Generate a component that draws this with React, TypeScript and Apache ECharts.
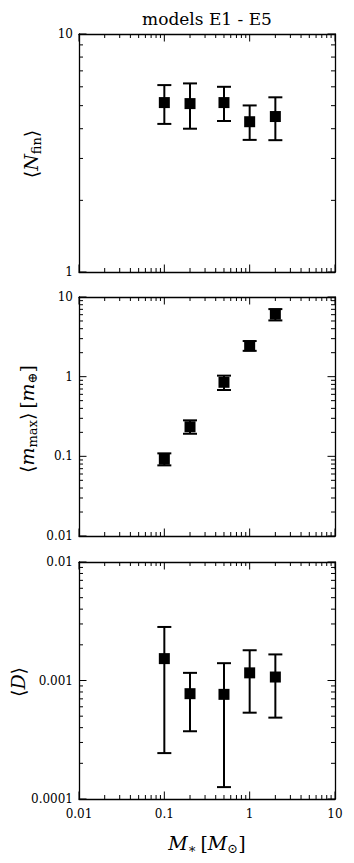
import React, { useEffect, useRef } from "react";
import * as echarts from "echarts";

// stellar masses [M_sun]
const stellarMass = [0.1, 0.2, 0.5, 1, 2];

// panel 1: <N_fin>
const nfinMean = [5.15, 5.1, 5.15, 4.28, 4.5];
const nfinLow = [4.19, 4.0, 4.31, 3.59, 3.58];
const nfinHigh = [6.1, 6.2, 6.0, 5.01, 5.42];

// panel 2: <m_max> [m_earth]
const mmaxMean = [0.092, 0.235, 0.85, 2.44, 6.1];
const mmaxLow = [0.077, 0.192, 0.68, 2.11, 5.08];
const mmaxHigh = [0.109, 0.283, 1.03, 2.8, 7.05];

// panel 3: <D>
const dMean = [0.00153, 0.000774, 0.000764, 0.00116, 0.00107];
const dLow = [0.000244, 0.000373, 0.000126, 0.000535, 0.000486];
const dHigh = [0.00283, 0.00116, 0.0014, 0.0018, 0.00166];

// axis ranges and tick labels
const xRange = [0.01, 10];
const xTickLabels = ["0.01", "0.1", "1", "10"];
const yRanges = [
  [1, 10],
  [0.01, 10],
  [0.0001, 0.01],
];
const yTickLabels = [
  ["1", "10"],
  ["0.01", "0.1", "1", "10"],
  ["0.0001", "0.001", "0.01"],
];

const FONT = "'DejaVu Serif', 'Liberation Serif', serif";

function logTicks(min: number, max: number) {
  const out: [number, number][] = [];
  const k0 = Math.round(Math.log10(min));
  const k1 = Math.round(Math.log10(max));
  for (let k = k0; k <= k1; k++) {
    const base = Math.pow(10, k);
    out.push([base, 1]);
    if (k < k1) for (let m = 2; m <= 9; m++) out.push([m * base, 0]);
  }
  return out;
}

function fmt(labels: string[]) {
  return (v: number) => {
    const f = labels.find((l) => Math.abs(Math.log10(+l) - Math.log10(v)) < 1e-6);
    return f ?? "";
  };
}

export default function App() {
  const ref = useRef<HTMLDivElement>(null);
  useEffect(() => {
    if (!ref.current) return;
    const chart = echarts.init(ref.current, undefined, { renderer: "svg" });
    const grids = [
      { left: 79, width: 256, top: 34, height: 238 },
      { left: 79, width: 256, top: 297, height: 239 },
      { left: 79, width: 256, top: 562, height: 237 },
    ];
    const means = [nfinMean, mmaxMean, dMean];
    const lows = [nfinLow, mmaxLow, dLow];
    const highs = [nfinHigh, mmaxHigh, dHigh];

    const xAxis: any[] = [];
    const yAxis: any[] = [];
    const series: any[] = [];
    const axisLine = { show: true, onZero: false, lineStyle: { color: "#000", width: 1.3 } };
    grids.forEach((g, i) => {
      const [ymin, ymax] = yRanges[i];
      ["bottom", "top"].forEach((pos, j) => {
        xAxis.push({
          type: "log",
          logBase: 10,
          gridIndex: i,
          position: pos,
          min: xRange[0],
          max: xRange[1],
          axisLine,
          axisTick: { show: false },
          splitLine: { show: false },
          minorTick: { show: false },
          axisLabel: {
            show: i === 2 && j === 0,
            formatter: fmt(xTickLabels),
            fontFamily: FONT,
            fontSize: 12,
            color: "#000",
            margin: 9,
            showMinLabel: true,
            showMaxLabel: true,
            hideOverlap: false,
          },
        });
      });
      ["left", "right"].forEach((pos, j) => {
        yAxis.push({
          type: "log",
          logBase: 10,
          gridIndex: i,
          position: pos,
          min: ymin,
          max: ymax,
          axisLine,
          axisTick: { show: false },
          splitLine: { show: false },
          minorTick: { show: false },
          axisLabel: {
            show: j === 0,
            formatter: fmt(yTickLabels[i]),
            fontFamily: FONT,
            fontSize: 12,
            color: "#000",
            margin: 6,
            showMinLabel: true,
            showMaxLabel: true,
            hideOverlap: false,
          },
        });
      });

      // ticks on all four sides
      const tickData: number[][] = [];
      logTicks(xRange[0], xRange[1]).forEach(([v, m]) => tickData.push([v, ymin, 0, m]));
      logTicks(ymin, ymax).forEach(([v, m]) => tickData.push([xRange[0], v, 1, m]));
      series.push({
        type: "custom",
        xAxisIndex: 2 * i,
        yAxisIndex: 2 * i,
        silent: true,
        clip: false,
        encode: { x: 0, y: 1 },
        data: tickData,
        renderItem: (params: any, api: any) => {
          const cs = params.coordSys;
          const kind = api.value(2);
          const len = api.value(3) ? 7.5 : 4;
          const st = { stroke: "#000", lineWidth: 1 };
          if (kind === 0) {
            const px = api.coord([api.value(0), ymin])[0];
            return {
              type: "group",
              children: [
                { type: "line", shape: { x1: px, y1: cs.y + cs.height, x2: px, y2: cs.y + cs.height - len }, style: st },
                { type: "line", shape: { x1: px, y1: cs.y, x2: px, y2: cs.y + len }, style: st },
              ],
            };
          }
          const py = api.coord([xRange[0], api.value(1)])[1];
          return {
            type: "group",
            children: [
              { type: "line", shape: { x1: cs.x, y1: py, x2: cs.x + len, y2: py }, style: st },
              { type: "line", shape: { x1: cs.x + cs.width, y1: py, x2: cs.x + cs.width - len, y2: py }, style: st },
            ],
          };
        },
      });

      // error bars
      series.push({
        type: "custom",
        xAxisIndex: 2 * i,
        yAxisIndex: 2 * i,
        encode: { x: 0, y: [1, 2] },
        data: stellarMass.map((x, k) => [x, lows[i][k], highs[i][k]]),
        renderItem: (params: any, api: any) => {
          const lo = api.coord([api.value(0), api.value(1)]);
          const hi = api.coord([api.value(0), api.value(2)]);
          const hw = 7;
          const st = { stroke: "#000", lineWidth: 2 };
          return {
            type: "group",
            children: [
              { type: "line", shape: { x1: lo[0], y1: lo[1], x2: hi[0], y2: hi[1] }, style: st },
              { type: "line", shape: { x1: lo[0] - hw, y1: lo[1], x2: lo[0] + hw, y2: lo[1] }, style: st },
              { type: "line", shape: { x1: hi[0] - hw, y1: hi[1], x2: hi[0] + hw, y2: hi[1] }, style: st },
            ],
          };
        },
      });

      // squares
      series.push({
        type: "scatter",
        xAxisIndex: 2 * i,
        yAxisIndex: 2 * i,
        symbol: "rect",
        symbolSize: 11,
        itemStyle: { color: "#000", opacity: 1 },
        z: 5,
        data: stellarMass.map((x, k) => [x, means[i][k]]),
      });
    });

    const main = { fontFamily: FONT, fontSize: 19, fontStyle: "italic", fill: "#000" };
    const br = { fontFamily: FONT, fontSize: 19, fill: "#000" };
    const sub = { fontFamily: FONT, fontSize: 13, fill: "#000", padding: [10, 0, 0, 0] };
    const sp = { fontFamily: FONT, fontSize: 12, fill: "#000" };

    chart.setOption({
      animation: false,
      textStyle: { fontFamily: FONT },
      grid: grids.map((g) => ({ ...g, containLabel: false, outerBoundsMode: "none" })),
      xAxis,
      yAxis,
      series,
      graphic: [
        {
          type: "text",
          x: 207,
          y: 19,
          style: { text: "models E1 - E5", fontFamily: FONT, fontSize: 17, fill: "#000", align: "center", verticalAlign: "middle" },
        },
        {
          type: "text",
          x: 31,
          y: 154,
          rotation: Math.PI / 2,
          style: {
            text: "{b|⟨}{i|N}{s|fin}{b|⟩}",
            fontFamily: FONT,
            rich: { b: br, i: main, s: sub },
            align: "center",
            verticalAlign: "middle",
          },
        },
        {
          type: "text",
          x: 27,
          y: 419,
          rotation: Math.PI / 2,
          style: {
            text: "{b|⟨}{i|m}{s|max}{b|⟩}{sp| }{b|[}{i|m}{s|⊕}{b|]}",
            fontFamily: FONT,
            rich: { b: br, i: main, s: sub, sp },
            align: "center",
            verticalAlign: "middle",
          },
        },
        {
          type: "text",
          x: 18,
          y: 682,
          rotation: Math.PI / 2,
          style: {
            text: "{b|⟨}{i|D}{b|⟩}",
            fontFamily: FONT,
            rich: { b: br, i: main },
            align: "center",
            verticalAlign: "middle",
          },
        },
        {
          type: "text",
          x: 207,
          y: 843,
          style: {
            text: "{i|M}{s|∗}{sp| }{b|[}{i|M}{s|⊙}{b|]}",
            fontFamily: FONT,
            rich: { b: br, i: main, s: sub, sp },
            align: "center",
            verticalAlign: "middle",
          },
        },
      ],
    });
    return () => chart.dispose();
  }, []);
  return (
    <div
      ref={ref}
      style={{ position: "fixed", left: 0, top: 0, width: 354, height: 863, background: "#fff" }}
    />
  );
}
